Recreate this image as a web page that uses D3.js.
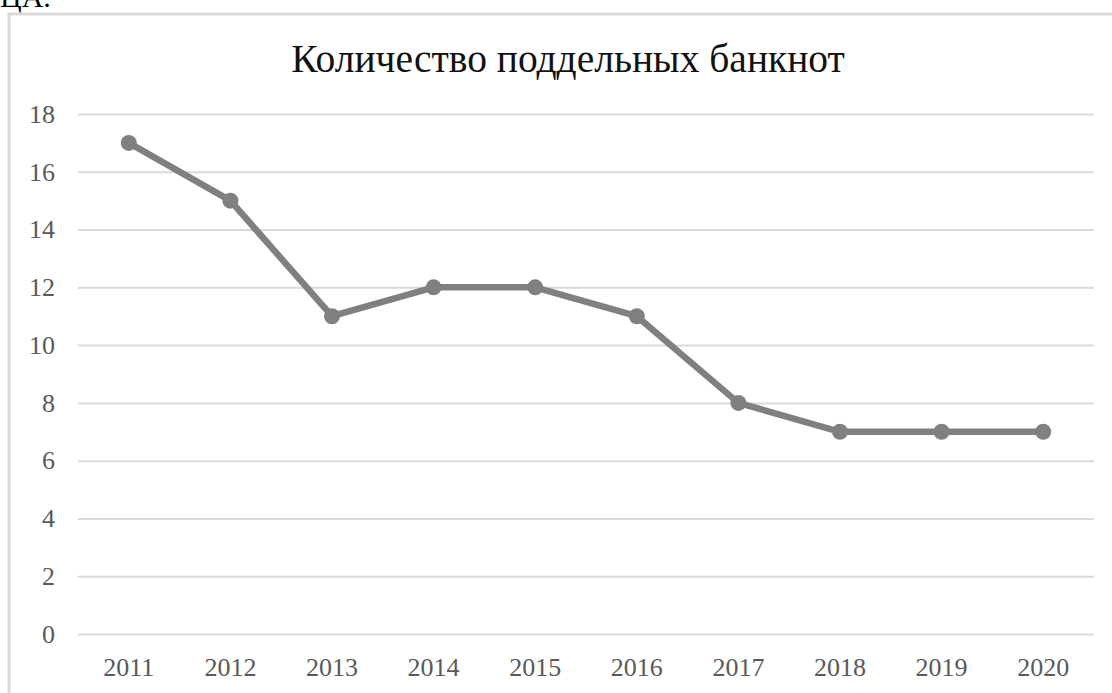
<!DOCTYPE html>
<html><head><meta charset="utf-8">
<script src="https://cdn.jsdelivr.net/npm/d3@7"></script>
<style>body{margin:0;background:#fff;}svg{display:block;}</style>
</head><body>
<script>
const years = ["2011","2012","2013","2014","2015","2016","2017","2018","2019","2020"];
const counts = [17,15,11,12,12,11,8,7,7,7];
const yTicks = [0,2,4,6,8,10,12,14,16,18];
const title = "Количество поддельных банкнот";

const W=1112,H=693;
const svg=d3.select("body").append("svg").attr("width",W).attr("height",H);
const serif="'Liberation Serif','Times New Roman',serif";

// partial text at top (cut off in the reference as well)
svg.append("text").attr("x",0).attr("y",7).attr("font-family",serif).attr("font-size",30).attr("fill","#000").text("ЦА.");

// frame
svg.append("rect").attr("x",9).attr("y",14).attr("width",W).attr("height",H).attr("fill","#fff").attr("stroke","#d9d9d9").attr("stroke-width",3);

const x=d3.scaleBand().domain(years).range([78,1094]);
const y=d3.scaleLinear().domain([0,18]).range([634,114]);

svg.append("text").attr("x",568).attr("y",72).attr("text-anchor","middle").attr("font-family",serif).attr("font-size",39.5).attr("fill","#111").text(title);

const gy=svg.append("g").attr("transform","translate(78,0)")
 .call(d3.axisLeft(y).tickValues(yTicks).tickSize(-(1094-78)).tickPadding(23));
gy.select(".domain").remove();
gy.selectAll(".tick line").attr("stroke","#d9d9d9").attr("stroke-width",2);
gy.selectAll(".tick text").attr("font-family",serif).attr("font-size",26).attr("fill","#595959");

const gx=svg.append("g").attr("transform","translate(0,634)")
 .call(d3.axisBottom(x).tickSize(0).tickPadding(24));
gx.select(".domain").remove();
gx.selectAll(".tick text").attr("font-family",serif).attr("font-size",26).attr("fill","#595959");

const cx=d=>x(d)+x.bandwidth()/2;
const data=years.map((yr,i)=>({yr,v:counts[i]}));
svg.append("path").datum(data).attr("fill","none").attr("stroke","#808080").attr("stroke-width",6.5).attr("stroke-linejoin","round")
 .attr("d",d3.line().x(d=>cx(d.yr)).y(d=>y(d.v)));
svg.selectAll("circle.pt").data(data).join("circle").attr("class","pt")
 .attr("cx",d=>cx(d.yr)).attr("cy",d=>y(d.v)).attr("r",8).attr("fill","#808080");
</script>
</body></html>
